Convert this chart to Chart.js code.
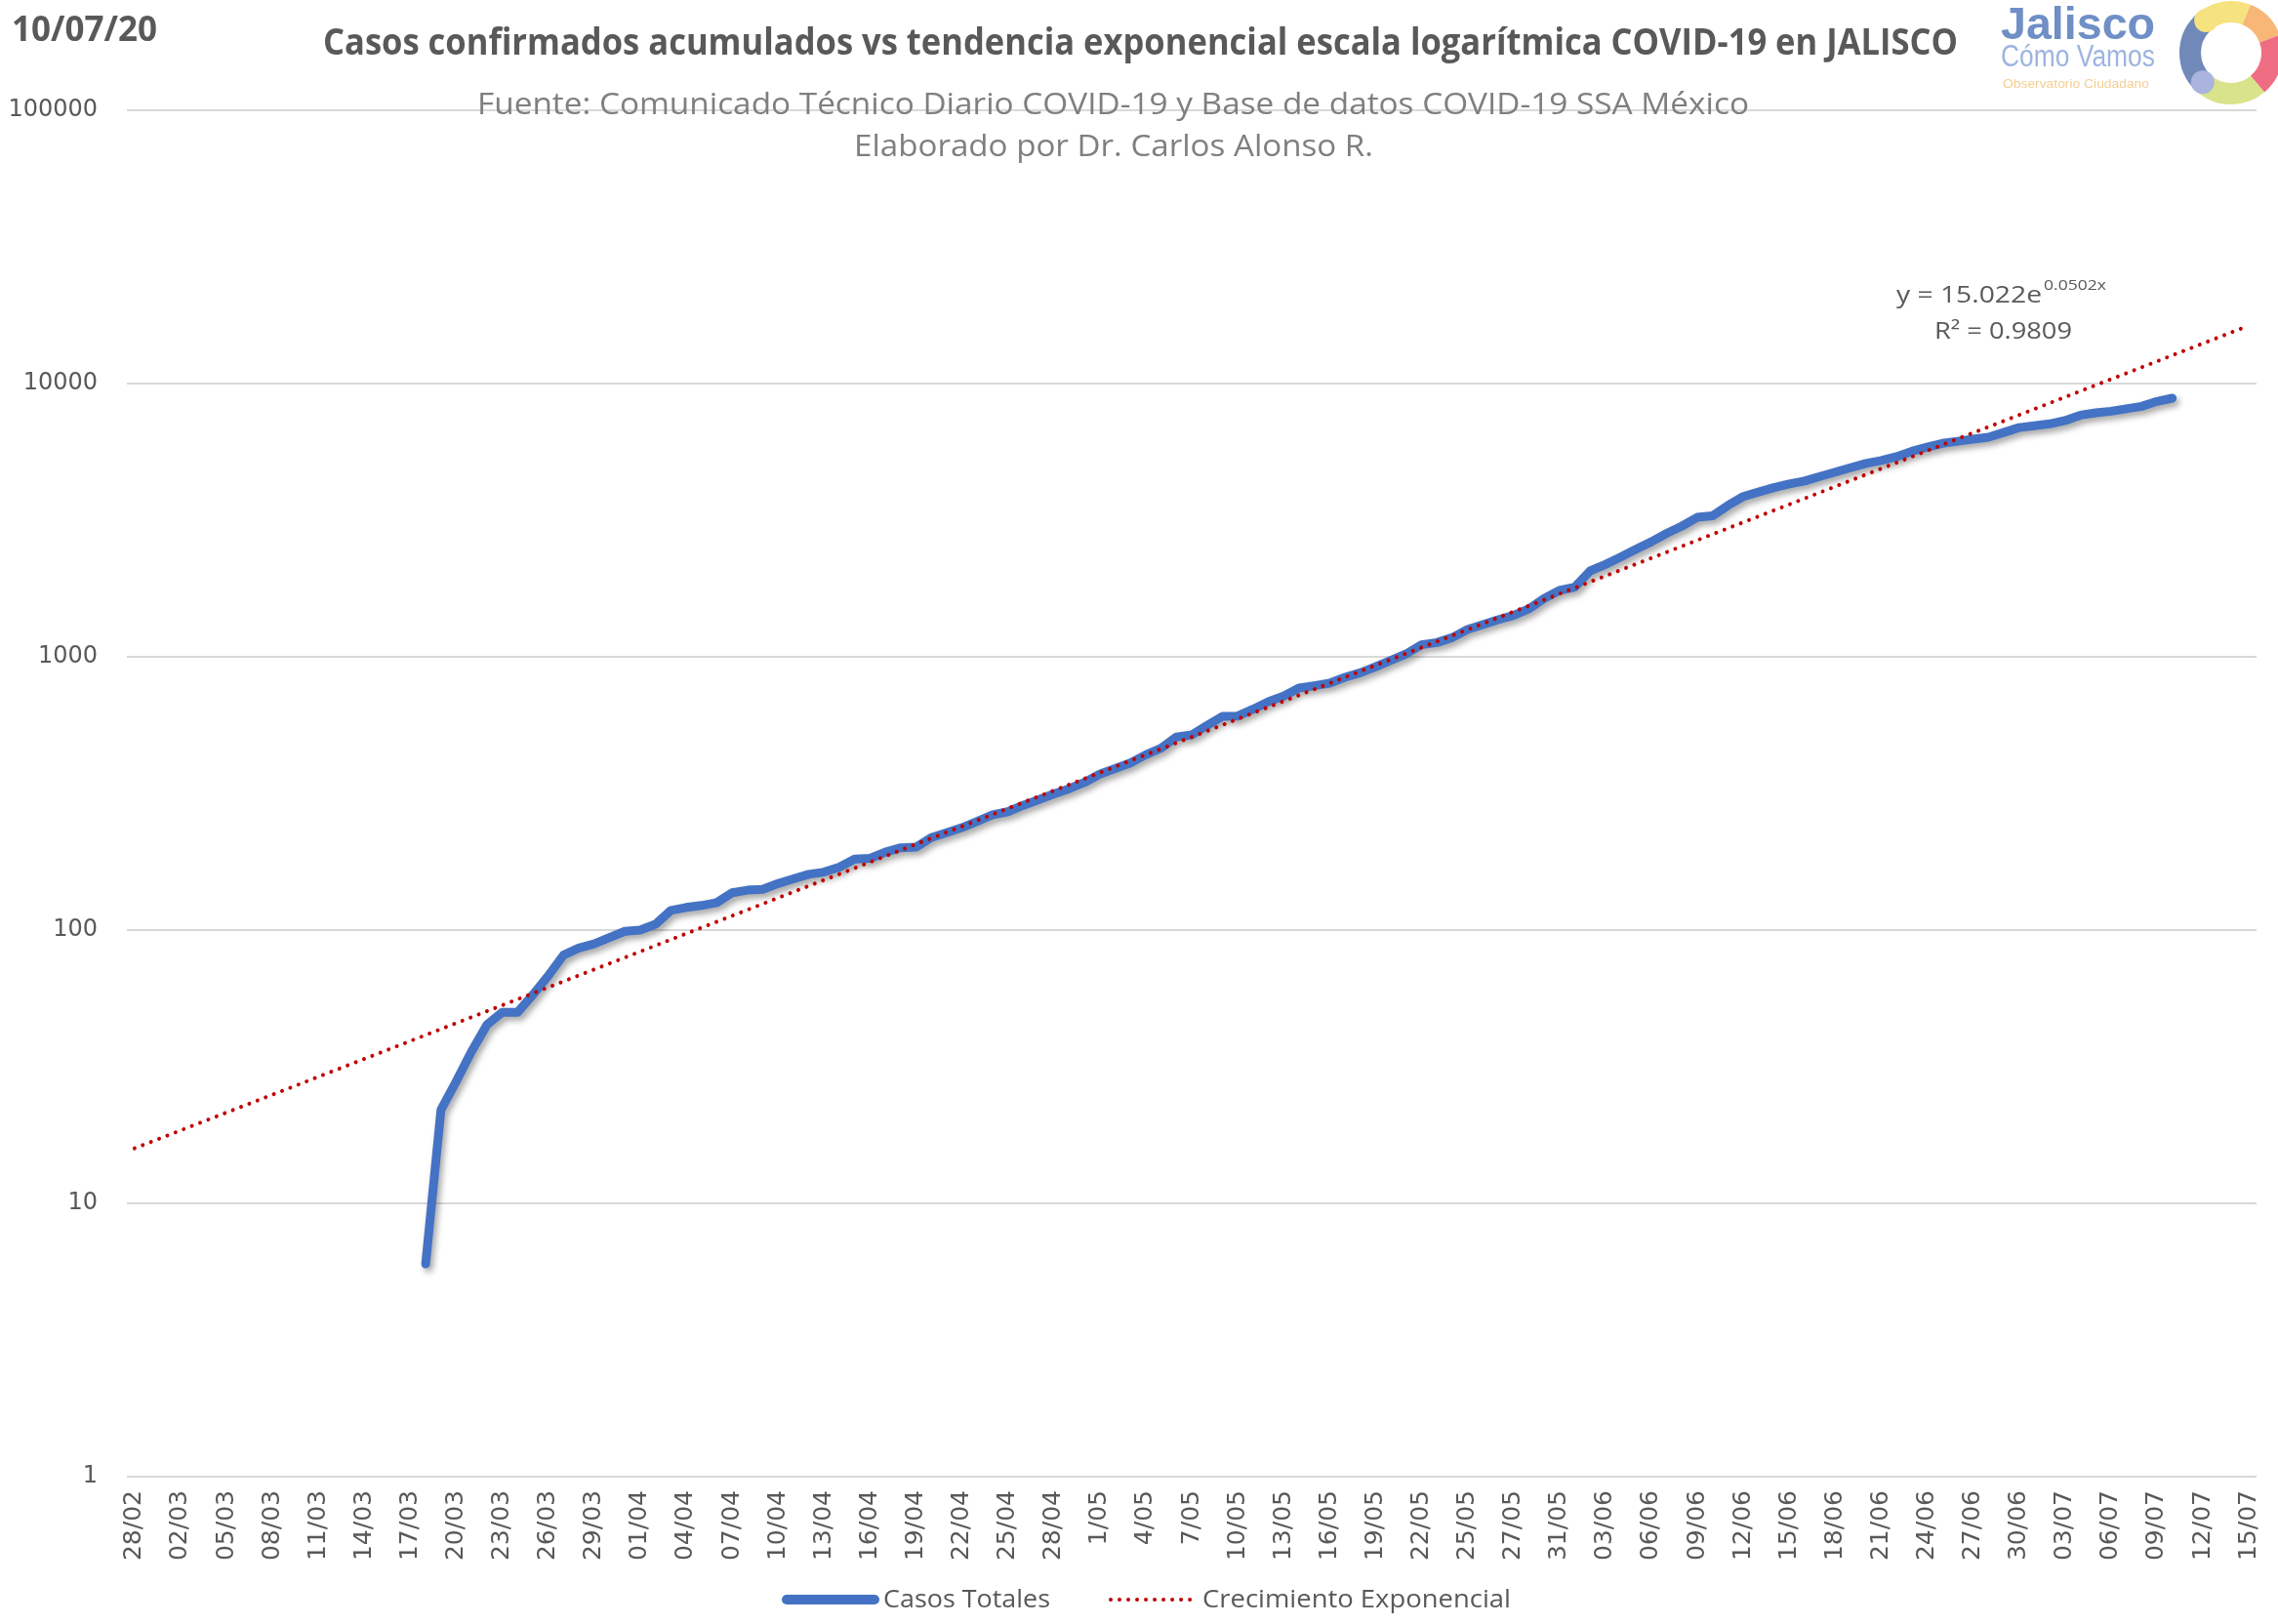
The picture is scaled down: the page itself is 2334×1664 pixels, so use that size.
<!DOCTYPE html>
<html>
<head>
<meta charset="utf-8">
<title>Casos confirmados acumulados COVID-19 Jalisco</title>
<script src="https://cdn.jsdelivr.net/npm/chart.js@4.4.1/dist/chart.umd.min.js"></script>
<style>
  html, body { margin: 0; padding: 0; background: #ffffff; }
  #chart { display: block; }
</style>
</head>
<body>
<canvas id="chart" width="2334" height="1664"></canvas>
<script>
/* global Chart */
(function () {
  'use strict';

  // x axis: one step per day, 28/02 = day 0 ... 15/07 = day 138, a label every 3 days
  const tickLabels = [
    '28/02', '02/03', '05/03', '08/03', '11/03', '14/03', '17/03', '20/03', '23/03', '26/03',
    '29/03', '01/04', '04/04', '07/04', '10/04', '13/04', '16/04', '19/04', '22/04', '25/04',
    '28/04', '1/05', '4/05', '7/05', '10/05', '13/05', '16/05', '19/05', '22/05', '25/05',
    '27/05', '31/05', '03/06', '06/06', '09/06', '12/06', '15/06', '18/06', '21/06', '24/06',
    '27/06', '30/06', '03/07', '06/07', '09/07', '12/07', '15/07'
  ];
  const lastDay = 138;
  const yTicks = [1, 10, 100, 1000, 10000, 100000];

  // Casos Totales, daily from 18/03 (day 19) to 10/07 (day 133)
  const firstCaseDay = 19;
  const casosTotales = [
    6, 22, 28, 36, 45, 50, 50, 58, 68, 81,
    86, 89, 94, 99, 100, 105, 118, 121, 123, 126,
    137, 140, 141, 148, 154, 160, 163, 170, 182, 183,
    193, 200, 201, 218, 227, 237, 250, 264, 271, 286,
    300, 315, 329, 347, 372, 390, 409, 438, 463, 509,
    518, 561, 605, 607, 643, 685, 718, 769, 784, 801,
    841, 874, 919, 970, 1025, 1107, 1128, 1175, 1259, 1311,
    1367, 1416, 1497, 1634, 1749, 1798, 2062, 2178, 2318, 2476,
    2636, 2830, 3010, 3240, 3280, 3580, 3860, 4010, 4160, 4290,
    4400, 4570, 4740, 4920, 5100, 5230, 5400, 5650, 5850, 6040,
    6150, 6260, 6360, 6620, 6900, 7010, 7120, 7320, 7660, 7810,
    7920, 8080, 8250, 8600, 8840
  ];

  // Crecimiento Exponencial: straight on the log axis, ends
  const trendDays = [0, 138];
  const trendValues = [15.9, 16300];

  const reportDate = '10/07/20';
  const titleText = 'Casos confirmados acumulados vs tendencia exponencial escala logarítmica COVID-19 en JALISCO';
  const sourceText = 'Fuente: Comunicado Técnico Diario COVID-19 y Base de datos COVID-19 SSA México';
  const authorText = 'Elaborado por Dr. Carlos Alonso R.';

  const grey = '#595959';

  function fitText(ctx, text, x, y, w, font, color, baseline) {
    ctx.save();
    ctx.font = font;
    ctx.fillStyle = color;
    ctx.textAlign = 'left';
    ctx.textBaseline = baseline || 'alphabetic';
    const m = ctx.measureText(text).width;
    ctx.translate(x, y);
    ctx.scale(w / m, 1);
    ctx.fillText(text, 0, 0);
    ctx.restore();
  }

  function drawLogo(ctx) {
    fitText(ctx, 'Jalisco', 2050, 40, 158, 'bold 47px "Liberation Sans"', '#6f8fc6');
    fitText(ctx, 'Cómo Vamos', 2050, 68, 158, '31px "Liberation Sans"', '#9db4e0');
    fitText(ctx, 'Observatorio Ciudadano', 2052, 90, 150, '13px "Liberation Sans"', '#f4cf94');

    const cx = 2286, cy = 54, r = 42;
    const seg = [
      [134, 232, '#7189b9'],
      [232, 292, '#f6e27f'],
      [292, 340, '#f8b777'],
      [340, 410, '#ef6d83'],
      [410, 494, '#d8e38b']
    ];
    ctx.save();
    ctx.lineWidth = 22;
    ctx.lineCap = 'butt';
    seg.forEach(function (s) {
      ctx.beginPath();
      ctx.strokeStyle = s[2];
      ctx.arc(cx, cy, r, s[0] * Math.PI / 180, s[1] * Math.PI / 180);
      ctx.stroke();
    });
    const dots = [[134, '#aab4dc'], [232, '#f6e27f']];
    dots.forEach(function (d) {
      const a = d[0] * Math.PI / 180;
      ctx.beginPath();
      ctx.fillStyle = d[1];
      ctx.arc(cx + r * Math.cos(a), cy + r * Math.sin(a), 12, 0, Math.PI * 2);
      ctx.fill();
    });
    ctx.restore();
  }

  // legend drawn by hand so the dotted sample and the wide gap match the original
  function drawLegend(chart) {
    const ctx = chart.ctx;
    const ds = chart.data.datasets;
    const y = 1639;
    const items = [
      { i: 0, x0: 806, x1: 896, tx: 905, tw: 171 },
      { i: 1, x0: 1138, x1: 1222, tx: 1232, tw: 316 }
    ];
    items.forEach(function (it) {
      const d = ds[it.i];
      ctx.save();
      ctx.strokeStyle = d.borderColor;
      ctx.lineWidth = it.i === 0 ? 10 : d.borderWidth;
      ctx.lineCap = 'round';
      ctx.setLineDash(d.borderDash || []);
      ctx.beginPath();
      ctx.moveTo(it.x0, y);
      ctx.lineTo(it.x1, y);
      ctx.stroke();
      ctx.restore();
      fitText(ctx, d.label, it.tx, y + 1, it.tw, '25px "Open Sans"', grey, 'middle');
    });
  }

  const decorations = {
    id: 'decorations',
    afterDraw(chart) {
      const ctx = chart.ctx;
      fitText(ctx, reportDate, 12, 42, 149, 'bold 35px "Open Sans"', grey);
      fitText(ctx, titleText, 331, 56, 1675, 'bold 37px "Open Sans"', grey);
      fitText(ctx, sourceText, 489, 117, 1303, '31px "Open Sans"', '#7f7f7f');
      fitText(ctx, authorText, 875, 160, 532, '31px "Open Sans"', '#7f7f7f');

      // trendline equation
      fitText(ctx, 'y = 15.022e', 1943, 310, 149, '24px "Open Sans"', grey);
      fitText(ctx, '0.0502x', 2094, 297, 64, '15px "Open Sans"', grey);
      fitText(ctx, 'R² = 0.9809', 1982, 347, 141, '24px "Open Sans"', grey);

      drawLogo(ctx);
      drawLegend(chart);
    }
  };

  const lineShadow = {
    id: 'lineShadow',
    beforeDatasetDraw(chart, args) {
      if (args.index !== 0) return;
      const ctx = chart.ctx;
      ctx.save();
      ctx.shadowColor = 'rgba(0, 0, 0, 0.35)';
      ctx.shadowBlur = 6;
      ctx.shadowOffsetX = 3;
      ctx.shadowOffsetY = 4;
    },
    afterDatasetDraw(chart, args) {
      if (args.index === 0) chart.ctx.restore();
    }
  };

  const el = document.getElementById('chart');

  new Chart(el, {
    type: 'line',
    data: {
      datasets: [{
        label: 'Casos Totales',
        data: casosTotales.map(function (v, k) { return { x: firstCaseDay + k, y: v }; }),
        borderColor: '#4472C4',
        backgroundColor: '#4472C4',
        borderWidth: 9,
        borderCapStyle: 'round',
        borderJoinStyle: 'round',
        pointRadius: 0,
        tension: 0,
        order: 1
      }, {
        label: 'Crecimiento Exponencial',
        data: trendDays.map(function (d, k) { return { x: d, y: trendValues[k] }; }),
        borderColor: '#C00000',
        backgroundColor: '#C00000',
        borderWidth: 4,
        borderDash: [0.01, 9],
        borderCapStyle: 'round',
        pointRadius: 0,
        tension: 0,
        order: 0
      }]
    },
    options: {
      responsive: false,
      animation: false,
      layout: { padding: { left: 0, right: 22, top: 113, bottom: 45 } },
      scales: {
        x: {
          type: 'linear',
          min: -0.5,
          max: lastDay + 0.5,
          afterBuildTicks: function (axis) {
            axis.ticks = tickLabels.map(function (_, i) { return { value: i * 3 }; });
          },
          afterFit: function (scale) {
            scale.height = 106;
            scale.paddingLeft = 0;
            scale.paddingRight = 0;
          },
          grid: { display: false, drawTicks: false },
          border: { display: false },
          ticks: {
            autoSkip: false,
            minRotation: 90,
            maxRotation: 90,
            padding: 14,
            color: grey,
            font: { family: '"DejaVu Sans"', size: 25 },
            callback: function (value) { return tickLabels[Math.round(value / 3)]; }
          }
        },
        y: {
          type: 'logarithmic',
          min: 1,
          max: 100000,
          afterBuildTicks: function (axis) {
            axis.ticks = yTicks.map(function (v) { return { value: v }; });
          },
          afterFit: function (scale) { scale.width = 130; },
          grid: { color: '#d9d9d9', lineWidth: 2, drawTicks: false },
          border: { display: false },
          ticks: {
            padding: 30,
            color: grey,
            font: { family: '"DejaVu Sans"', size: 24 },
            callback: function (value) { return String(value); }
          }
        }
      },
      plugins: {
        legend: { display: false },
        tooltip: { enabled: false }
      }
    },
    plugins: [lineShadow, decorations]
  });
})();
</script>
</body>
</html>
